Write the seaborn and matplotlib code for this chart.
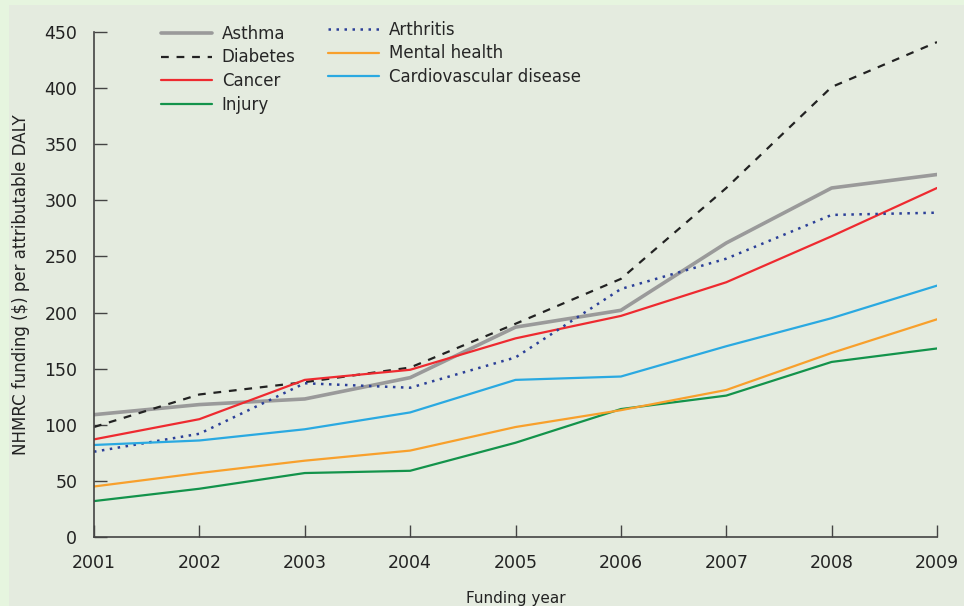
import matplotlib
matplotlib.use('Agg')
import matplotlib.pyplot as plt
import pandas as pd
import seaborn as sns

years = [2001, 2002, 2003, 2004, 2005, 2006, 2007, 2008, 2009]
asthma = [109, 118, 123, 142, 187, 202, 262, 311, 323]
diabetes = [98, 127, 138, 151, 190, 230, 311, 401, 441]
cancer = [87, 105, 140, 149, 177, 197, 227, 268, 311]
injury = [32, 43, 57, 59, 84, 114, 126, 156, 168]
arthritis = [76, 92, 137, 133, 160, 221, 248, 287, 289]
mental = [45, 57, 68, 77, 98, 113, 131, 164, 194]
cardio = [82, 86, 96, 111, 140, 143, 170, 195, 224]

panel = '#e4ebdf'
sns.set_style('ticks', {'axes.facecolor': panel, 'figure.facecolor': panel})
plt.rcParams['font.family'] = ['DejaVu Sans']

fig = plt.figure(figsize=(9.64, 6.06), dpi=100)
# light green strips on top/left edges
fig.patches.append(plt.Rectangle((0, 0), 9 / 964, 1, transform=fig.transFigure,
                                 facecolor='#e6f5df', edgecolor='none', zorder=-1))
fig.patches.append(plt.Rectangle((0, 1 - 5 / 606), 1, 5 / 606, transform=fig.transFigure,
                                 facecolor='#e6f5df', edgecolor='none', zorder=-1))
ax = fig.add_axes([94 / 964, 1 - 537 / 606, (937 - 94) / 964, (537 - 32) / 606])

df = pd.DataFrame({'year': years, 'Asthma': asthma, 'Diabetes': diabetes, 'Cancer': cancer,
                   'Injury': injury, 'Arthritis': arthritis, 'Mental health': mental,
                   'Cardiovascular disease': cardio})

styles = {
    'Asthma': dict(color='#9a9a9a', lw=2.6, ls='-'),
    'Diabetes': dict(color='#222222', lw=1.6, ls=(0, (3.5, 3.5))),
    'Cancer': dict(color='#ee2a30', lw=1.6, ls='-'),
    'Injury': dict(color='#13934b', lw=1.6, ls='-'),
    'Arthritis': dict(color='#2b3f98', lw=1.8, ls=(0, (1, 2.2))),
    'Mental health': dict(color='#f8a02c', lw=1.6, ls='-'),
    'Cardiovascular disease': dict(color='#2aa9e1', lw=1.6, ls='-'),
}
handles = {}
for name, st in styles.items():
    sns.lineplot(data=df, x='year', y=name, ax=ax, color=st['color'], linewidth=st['lw'],
                 linestyle=st['ls'], label=name, legend=False)
    handles[name] = ax.get_lines()[-1]

ax.set_xlim(2001, 2009)
ax.set_ylim(0, 450)
ax.set_xticks(years)
ax.set_yticks(range(0, 451, 50))
ax.tick_params(direction='in', length=9, width=1, color='#444444', labelsize=12.5,
               labelcolor='#222222')
ax.tick_params(axis='x', pad=12)
ax.tick_params(axis='y', pad=12)
for s in ['top', 'right']:
    ax.spines[s].set_visible(False)
for s in ['left', 'bottom']:
    ax.spines[s].set_color('#444444')
    ax.spines[s].set_linewidth(1.2)
ax.set_xlabel('Funding year', fontsize=11, color='#222222', labelpad=14)
ax.set_ylabel('NHMRC funding ($) per attributable DALY', fontsize=12, color='#222222', labelpad=10)

lkw = dict(bbox_transform=fig.transFigure, frameon=False, fontsize=12, loc='upper left',
           handlelength=3.05, handletextpad=0.6, labelspacing=0.33,
           borderaxespad=0, borderpad=0)
leg1 = ax.legend([handles[n] for n in ['Asthma', 'Diabetes', 'Cancer', 'Injury']],
                 ['Asthma', 'Diabetes', 'Cancer', 'Injury'],
                 bbox_to_anchor=(161 / 964, 1 - 25 / 606), **lkw)
ax.add_artist(leg1)
ax.legend([handles[n] for n in ['Arthritis', 'Mental health', 'Cardiovascular disease']],
          ['Arthritis', 'Mental health', 'Cardiovascular disease'],
          bbox_to_anchor=(328 / 964, 1 - 21 / 606), **lkw)

fig.savefig('out.png', dpi=100, facecolor=fig.get_facecolor())
